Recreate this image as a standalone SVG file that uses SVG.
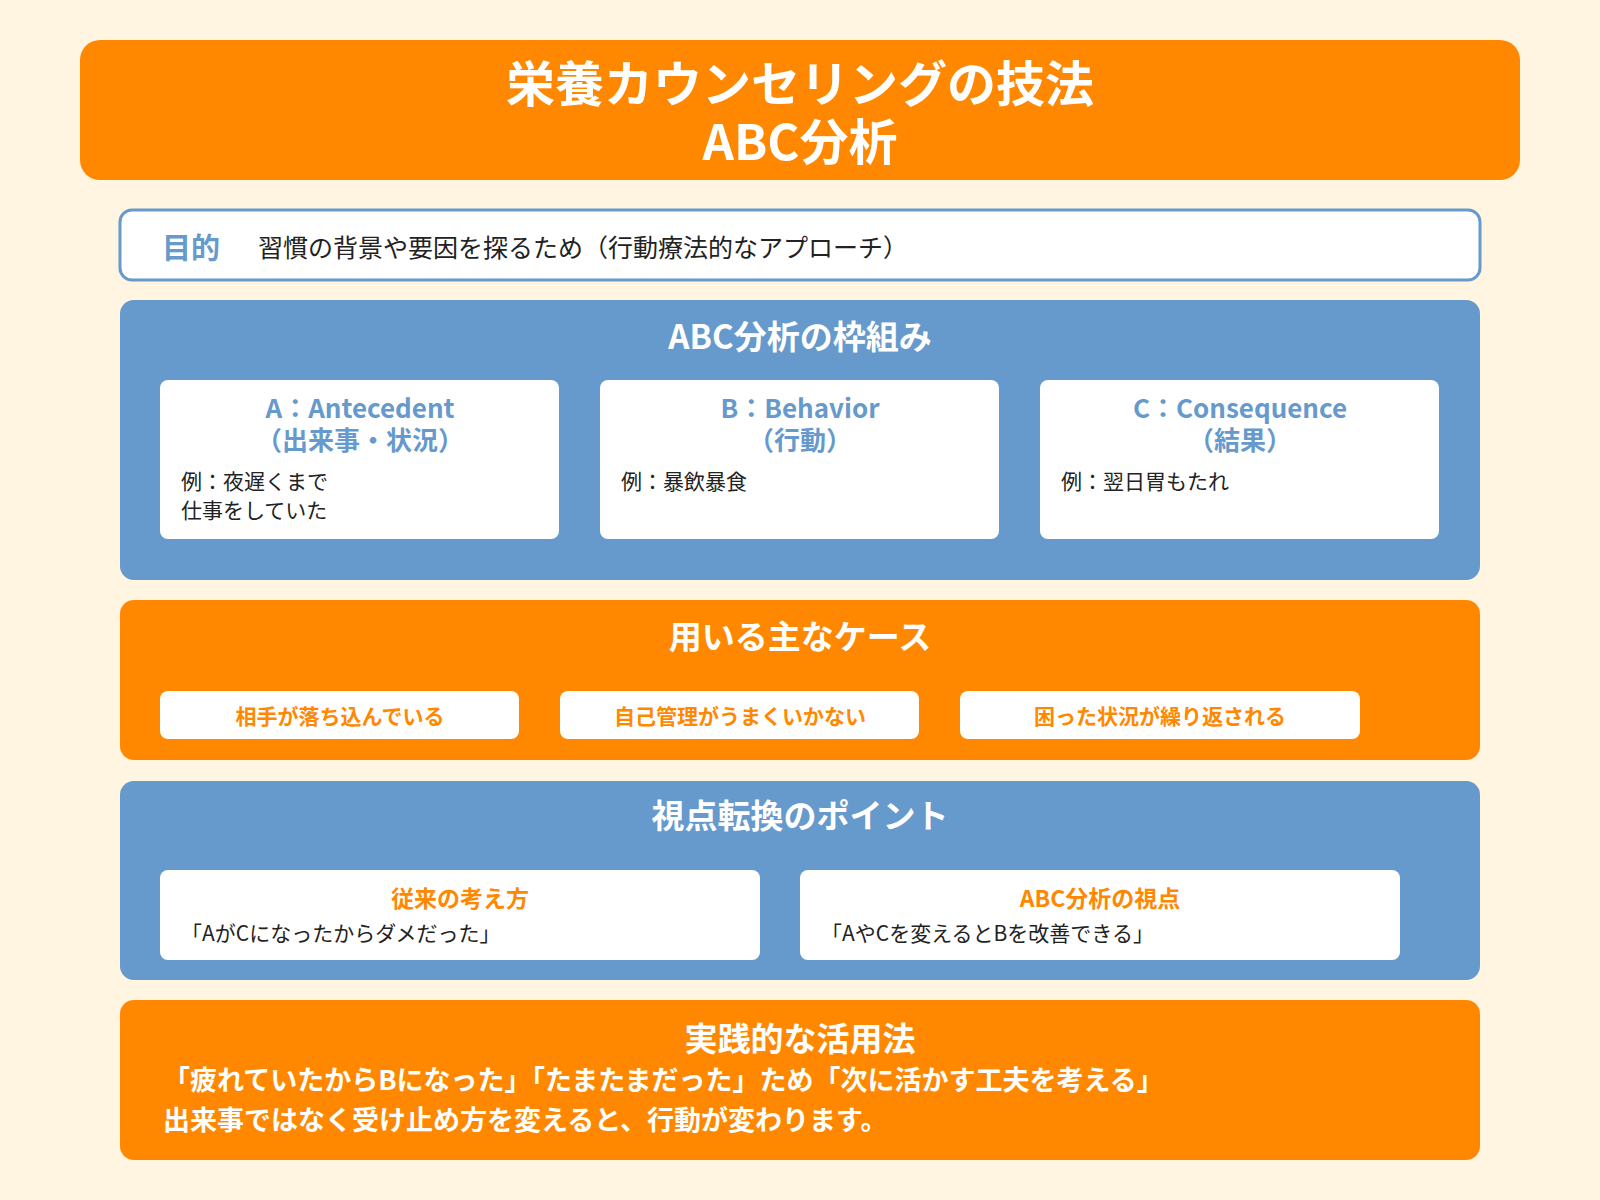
<svg xmlns="http://www.w3.org/2000/svg" width="1600" height="1200" viewBox="0 0 1600 1200">
<style>
text{font-family:"Noto Sans CJK JP","Noto Sans",sans-serif;dominant-baseline:central}
.or{fill:#FF8800}.bl{fill:#6699CC}.wc{fill:#fff}
.h{fill:#fff;font-weight:bold;font-size:33px;text-anchor:middle}
.ct{fill:#6699CC;font-weight:bold;font-size:26px;text-anchor:middle}
.b{fill:#222;font-size:21px}
.p{fill:#FF8800;font-weight:bold;font-size:21px;text-anchor:middle}
.pt{fill:#FF8800;font-weight:bold;font-size:23px;text-anchor:middle}
</style>
<rect width="1600" height="1200" fill="#FFF5E1"/>
<g id="title"><rect class="or" x="80" y="40" width="1440" height="140" rx="20"/>
<text x="800" y="80" fill="#fff" font-size="49" font-weight="bold" text-anchor="middle">栄養カウンセリングの技法</text>
<text x="800" y="138" fill="#fff" font-size="49" font-weight="bold" text-anchor="middle">ABC分析</text></g>
<g id="purpose"><rect x="120" y="210" width="1360" height="70" rx="12" fill="#fff" stroke="#6699CC" stroke-width="3"/>
<text x="162" y="246" fill="#6699CC" font-size="29" font-weight="bold">目的</text>
<text x="258" y="246" fill="#222" font-size="25">習慣の背景や要因を探るため（行動療法的なアプローチ）</text></g>
<g id="framework"><rect class="bl" x="120" y="300" width="1360" height="280" rx="14"/>
<text class="h" x="800" y="335">ABC分析の枠組み</text>
<g id="cardA"><rect class="wc" x="160" y="380" width="399" height="159" rx="8"/>
<text class="ct" x="360" y="406">A：Antecedent</text><text class="ct" x="360" y="438">（出来事・状況）</text>
<text class="b" x="181" y="480">例：夜遅くまで</text><text class="b" x="181" y="509">仕事をしていた</text></g>
<g id="cardB"><rect class="wc" x="600" y="380" width="399" height="159" rx="8"/>
<text class="ct" x="800" y="406">B：Behavior</text><text class="ct" x="800" y="438">（行動）</text>
<text class="b" x="621" y="480">例：暴飲暴食</text></g>
<g id="cardC"><rect class="wc" x="1040" y="380" width="399" height="159" rx="8"/>
<text class="ct" x="1240" y="406">C：Consequence</text><text class="ct" x="1240" y="438">（結果）</text>
<text class="b" x="1061" y="480">例：翌日胃もたれ</text></g></g>
<g id="cases"><rect class="or" x="120" y="600" width="1360" height="160" rx="14"/>
<text class="h" x="800" y="635">用いる主なケース</text>
<rect class="wc" x="160" y="691" width="359" height="48" rx="8"/><text class="p" x="340" y="715">相手が落ち込んでいる</text>
<rect class="wc" x="560" y="691" width="359" height="48" rx="8"/><text class="p" x="740" y="715">自己管理がうまくいかない</text>
<rect class="wc" x="960" y="691" width="400" height="48" rx="8"/><text class="p" x="1160" y="715">困った状況が繰り返される</text></g>
<g id="viewpoint"><rect class="bl" x="120" y="781" width="1360" height="199" rx="14"/>
<text class="h" x="800" y="814">視点転換のポイント</text>
<rect class="wc" x="160" y="870" width="600" height="90" rx="8"/>
<text class="pt" x="460" y="897">従来の考え方</text><text class="b" x="181" y="932">「AがCになったからダメだった」</text>
<rect class="wc" x="800" y="870" width="600" height="90" rx="8"/>
<text class="pt" x="1100" y="897">ABC分析の視点</text><text class="b" x="821" y="932">「AやCを変えるとBを改善できる」</text></g>
<g id="practice"><rect class="or" x="120" y="1000" width="1360" height="160" rx="14"/>
<text class="h" x="800" y="1037">実践的な活用法</text>
<text x="163" y="1078" fill="#fff" font-size="27" font-weight="bold">「疲れていたからBになった」「たまたまだった」ため「次に活かす工夫を考える」</text>
<text x="163" y="1118" fill="#fff" font-size="27" font-weight="bold">出来事ではなく受け止め方を変えると、行動が変わります。</text></g>
<g id="connectors"/>
</svg>
